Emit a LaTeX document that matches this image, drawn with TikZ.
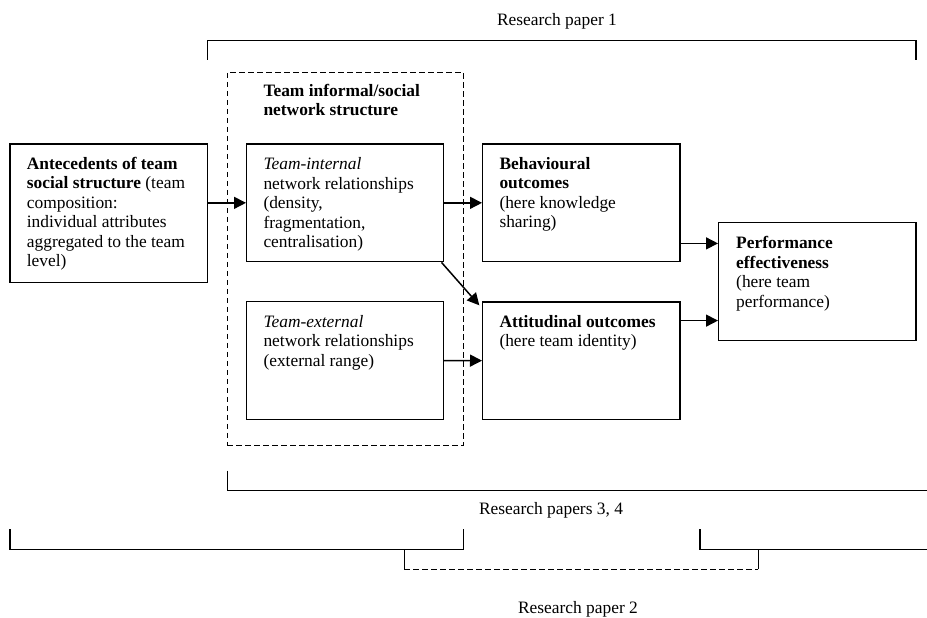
\documentclass[tikz,border=0pt]{standalone}
\usepackage{fontspec}
\setmainfont{Liberation Serif}
\usetikzlibrary{arrows.meta,calc}

% left-aligned block of lines whose baseline is that of its first line
\newcommand{\boxlines}[1]{\begin{tabular}[t]{@{}l@{}}#1\end{tabular}}

\begin{document}
\begin{tikzpicture}[x=1pt,y=-1pt,
  txt/.style={font={\fontsize{17.4}{19.5}\selectfont}, inner sep=0pt, anchor=base west},
  caption/.style={font={\fontsize{17.4}{19.5}\selectfont}, inner sep=0pt, anchor=base},
  box/.style={draw, line width=1.4pt, inner sep=0pt},
  groupbox/.style={draw, line width=1.4pt, inner sep=0pt, dash pattern=on 5.5pt off 3.5pt},
  arr/.style={line width=1.5pt, -{Triangle[length=12pt,width=12pt]}},
  bracket/.style={line width=1.5pt}
]
\useasboundingbox (0,0) rectangle (927,618);

% dashed grouping frame for the network structure
\node[groupbox, minimum width=236pt, minimum height=373.4pt] (net) at (345.3,259) {};
\node[txt] (netlbl) at (263.3,96) {\boxlines{\textbf{Team informal/social}\\\textbf{network structure}}};

% boxes
\node[box, minimum width=197.3pt, minimum height=138.3pt] (ante) at (108.65,213.15) {};
\node[box, minimum width=196.6pt, minimum height=117.7pt] (tint) at (345,202.85) {};
\node[box, minimum width=196.6pt, minimum height=117.6pt] (text) at (345,360.5) {};
\node[box, minimum width=197.3pt, minimum height=117.7pt] (beh) at (581.35,202.85) {};
\node[box, minimum width=197.3pt, minimum height=117.3pt] (att) at (581.35,360.65) {};
\node[box, minimum width=197.3pt, minimum height=118pt] (perf) at (817.35,281.7) {};

% box texts
\node[txt] (antetxt) at (26.7,169) {\boxlines{\textbf{Antecedents of team}\\\textbf{social structure} (team\\composition:\\individual attributes\\aggregated to the team\\level)}};
\node[txt] (tinttxt) at (263.3,169.5) {\boxlines{\textit{Team-internal}\\network relationships\\(density,\\fragmentation,\\centralisation)}};
\node[txt] (texttxt) at (263.3,327) {\boxlines{\textit{Team-external}\\network relationships\\(external range)}};
\node[txt] (behtxt) at (499.3,169.3) {\boxlines{\textbf{Behavioural}\\\textbf{outcomes}\\(here knowledge\\sharing)}};
\node[txt] (atttxt) at (499.3,327) {\boxlines{\textbf{Attitudinal outcomes}\\(here team identity)}};
\node[txt] (perftxt) at (736,248.5) {\boxlines{\textbf{Performance}\\\textbf{effectiveness}\\(here team\\performance)}};

% connectors
\draw[arr] (ante.east |- tint.west) -- (tint.west);
\draw[arr] (tint.east) -- (beh.west);
\draw[arr] (text.east) -- (att.west);
\draw[arr] ([xshift=-2.5pt]tint.south east) -- ([xshift=-2.7pt,yshift=-4pt]att.north west);
\coordinate (bo) at ([yshift=19pt]beh.south east);
\draw[arr] (bo) -- (perf.west |- bo);
\coordinate (ao) at ([yshift=-19.3pt]att.north east);
\draw[arr] (ao) -- (perf.west |- ao);

% research paper brackets
\draw[bracket] (207.3,60) -- (207.3,40.7) -- (916,40.7) -- (916,60);
\node[caption] (rp1) at (557,25.7) {Research paper 1};

\draw[bracket] (227.3,470.7) -- (227.3,490.7) -- (927,490.7);
\node[caption] (rp34) at (551,514.3) {Research papers 3, 4};

\draw[bracket] (10,529.3) -- (10,549.3) -- (463.3,549.3) -- (463.3,529.3);
\draw[bracket] (700,529.3) -- (700,549.3) -- (927,549.3);
\draw[bracket] (404.3,549.3) -- (404.3,569.3);
\draw[bracket, dash pattern=on 5.5pt off 3.5pt] (404.3,569.3) -- (758.3,569.3);
\draw[bracket] (758.3,569.3) -- (758.3,549.3);
\node[caption] (rp2) at (578,613.3) {Research paper 2};
\end{tikzpicture}
\end{document}
